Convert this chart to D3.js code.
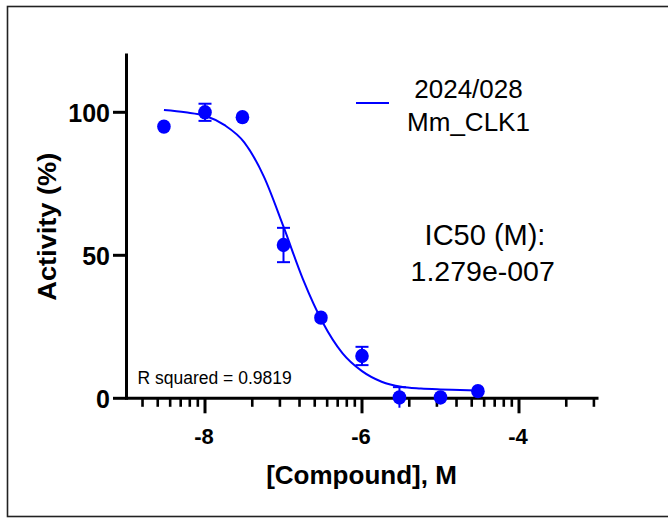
<!DOCTYPE html>
<html>
<head>
<meta charset="utf-8">
<script src="https://cdn.jsdelivr.net/npm/d3@7"></script>
<style>
  html, body { margin: 0; padding: 0; background: #fff; }
  svg { display: block; }
  text { font-family: "Liberation Sans", Arial, Helvetica, sans-serif; fill: #000; }
</style>
</head>
<body>
<div id="chart"></div>
<script>
// ---- data ----
const logConc   = [-8.523, -8, -7.523, -7, -6.523, -6, -5.523, -5, -4.523];
const activity  = [95.0, 100.0, 98.3, 53.6, 28.2, 14.8, 0.3, 0.3, 2.5];
const errorSEM  = [0, 3.0, 0, 6.0, 0, 3.2, 3.6, 0, 0];

// fitted curve
const fitX = [-8.523, -8.25, -8, -7.75, -7.5, -7.25, -7, -6.75, -6.5, -6.25, -6, -5.75, -5.5, -5.25, -5, -4.75, -4.523];
const fitY = [100.8, 100.0, 98.8, 95.5, 89.5, 77.5, 60.0, 41.5, 26.5, 15.8, 9.5, 5.8, 4.0, 3.4, 3.1, 2.9, 2.7];

const xMajorTicks = [-8, -6, -4];
const xTickLabels = ["-8", "-6", "-4"];
const yMajorTicks = [0, 50, 100];
const yTickLabels = ["0", "50", "100"];
const minorMultipliers = [2, 3, 4, 5, 6, 7, 8, 9];
const minorBases = [-10, -8, -6, -4];

const seriesName = ["2024/028", "Mm_CLK1"];
const ic50Text = ["IC50 (M):", "1.279e-007"];
const rSquaredText = "R squared = 0.9819";
const xTitle = "[Compound], M";
const yTitle = "Activity (%)";

// ---- layout ----
const W = 668, H = 518;
const blue = "#0000FF";
const svg = d3.select("#chart").append("svg").attr("width", W).attr("height", H);

svg.append("rect").attr("width", W).attr("height", H).attr("fill", "#fff");
// outer frame (right side runs off the picture)
svg.append("rect")
  .attr("x", 7.5).attr("y", 6.5).attr("width", 720).attr("height", 510)
  .attr("fill", "none").attr("stroke", "#222").attr("stroke-width", 1.6);

const x = d3.scaleLinear().domain([-9, -3]).range([126.5, 597.5]);
const y = d3.scaleLinear().domain([0, 120]).range([398.3, 55.1]);

const axisW = 3;
// y axis line
svg.append("line")
  .attr("x1", x(-9)).attr("x2", x(-9))
  .attr("y1", y(120)).attr("y2", y(0))
  .attr("stroke", "#000").attr("stroke-width", axisW).attr("stroke-linecap", "square");
// x axis line
svg.append("line")
  .attr("x1", x(-9)).attr("x2", x(-3) + 1)
  .attr("y1", y(0)).attr("y2", y(0))
  .attr("stroke", "#000").attr("stroke-width", axisW);

// y ticks + labels
const yt = svg.append("g");
yMajorTicks.forEach((v, i) => {
  yt.append("line")
    .attr("x1", x(-9) - 13.5).attr("x2", x(-9))
    .attr("y1", y(v)).attr("y2", y(v))
    .attr("stroke", "#000").attr("stroke-width", axisW);
  yt.append("text")
    .attr("x", 110).attr("y", y(v) + 9.5)
    .attr("text-anchor", "end")
    .attr("font-size", 25).attr("font-weight", "bold")
    .text(yTickLabels[i]);
});

// x major ticks + labels
const xt = svg.append("g");
xMajorTicks.forEach((v, i) => {
  xt.append("line")
    .attr("x1", x(v)).attr("x2", x(v))
    .attr("y1", y(0)).attr("y2", y(0) + 15)
    .attr("stroke", "#000").attr("stroke-width", axisW);
  xt.append("text")
    .attr("x", x(v) - 1).attr("y", 443.5)
    .attr("text-anchor", "middle")
    .attr("font-size", 22).attr("font-weight", "bold")
    .text(xTickLabels[i]);
});
// x minor ticks
const minorVals = [];
minorBases.forEach(b => minorMultipliers.forEach(k => {
  const v = b + 2 * Math.log10(k);
  if (v > -9 && v <= -3) minorVals.push(v);
}));
xt.selectAll("line.minor").data(minorVals).enter().append("line")
  .attr("class", "minor")
  .attr("x1", d => x(d)).attr("x2", d => x(d))
  .attr("y1", y(0)).attr("y2", y(0) + 8.5)
  .attr("stroke", "#000").attr("stroke-width", 2.6);

// axis titles
svg.append("text")
  .attr("x", 361.5).attr("y", 484)
  .attr("text-anchor", "middle")
  .attr("font-size", 26).attr("font-weight", "bold")
  .text(xTitle);
svg.append("text")
  .attr("transform", "translate(56,226.7) rotate(-90)")
  .attr("text-anchor", "middle")
  .attr("font-size", 26).attr("font-weight", "bold")
  .attr("textLength", 148).attr("lengthAdjust", "spacingAndGlyphs")
  .text(yTitle);

// fitted curve
const line = d3.line().x((d, i) => x(fitX[i])).y(d => y(d)).curve(d3.curveMonotoneX);
svg.append("path")
  .attr("d", line(fitY))
  .attr("fill", "none").attr("stroke", blue).attr("stroke-width", 2);

// error bars (caps below the x axis are not drawn)
const eb = svg.append("g").attr("stroke", blue).attr("stroke-width", 2);
logConc.forEach((c, i) => {
  if (!errorSEM[i]) return;
  const lo = activity[i] - errorSEM[i], hi = activity[i] + errorSEM[i];
  eb.append("line").attr("x1", x(c)).attr("x2", x(c)).attr("y1", y(lo)).attr("y2", y(hi));
  [lo, hi].filter(v => v >= 0).forEach(v => eb.append("line")
    .attr("x1", x(c) - 6.5).attr("x2", x(c) + 6.5).attr("y1", y(v)).attr("y2", y(v)));
});

// points
svg.append("g").selectAll("ellipse").data(activity).enter().append("ellipse")
  .attr("cx", (d, i) => x(logConc[i])).attr("cy", d => y(d))
  .attr("rx", 6.8).attr("ry", 7.2)
  .attr("fill", blue);

// legend
svg.append("line")
  .attr("x1", 356).attr("x2", 389).attr("y1", 103).attr("y2", 103)
  .attr("stroke", blue).attr("stroke-width", 2);
svg.append("text").attr("x", 468.5).attr("y", 98).attr("text-anchor", "middle")
  .attr("font-size", 26).text(seriesName[0]);
svg.append("text").attr("x", 468.5).attr("y", 131).attr("text-anchor", "middle")
  .attr("font-size", 26).text(seriesName[1]);

// IC50 annotation
svg.append("text").attr("x", 485).attr("y", 244.5).attr("text-anchor", "middle")
  .attr("font-size", 29).text(ic50Text[0]);
svg.append("text").attr("x", 482.7).attr("y", 280.5).attr("text-anchor", "middle")
  .attr("font-size", 28.5).text(ic50Text[1]);

// R squared
svg.append("text").attr("x", 137.5).attr("y", 384.3)
  .attr("font-size", 17.5).text(rSquaredText);
</script>
</body>
</html>
